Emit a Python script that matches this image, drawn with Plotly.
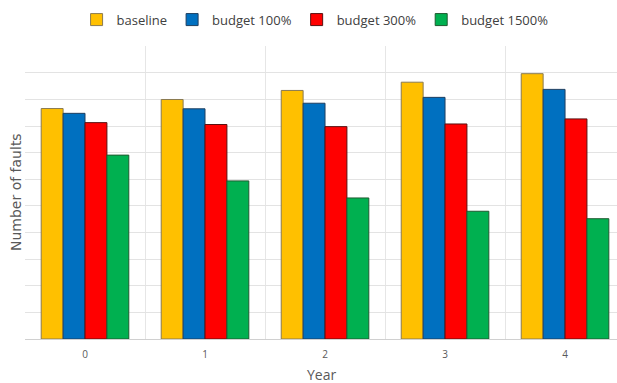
import plotly.graph_objects as go

years = [0, 1, 2, 3, 4]
year_labels = ["0", "1", "2", "3", "4"]
series_names = ["baseline", "budget 100%", "budget 300%", "budget 1500%"]
baseline = [8.66, 9.00, 9.34, 9.65, 9.97]
budget_100 = [8.48, 8.65, 8.86, 9.08, 9.38]
budget_300 = [8.13, 8.06, 7.98, 8.08, 8.27]
budget_1500 = [6.91, 5.94, 5.30, 4.80, 4.52]
colors = ["#FFC000", "#0070C0", "#FF0000", "#00B050"]
edge_colors = ["#8a7a50", "#1f3f60", "#5a1010", "#1f5a30"]

fig = go.Figure()
for name, vals, c, ec in zip(series_names, [baseline, budget_100, budget_300, budget_1500], colors, edge_colors):
    fig.add_trace(go.Bar(x=years, y=vals, name=name,
                         marker=dict(color=c, line=dict(color=ec, width=1))))

fig.update_layout(
    width=617, height=383,
    margin=dict(l=25, r=0, t=46, b=44),
    barmode="group", bargap=0.27, bargroupgap=0,
    plot_bgcolor="white", paper_bgcolor="white",
    font=dict(family="Open Sans", color="#595959"),
    legend=dict(orientation="h", x=0.49, xanchor="center", y=1.09, yanchor="middle",
                font=dict(size=13, family="Open Sans", color="#404040"),
                itemwidth=30, traceorder="normal"),
    showlegend=True,
    xaxis=dict(range=[-0.5, 4.433], tickvals=years, ticktext=year_labels,
               showgrid=False, zeroline=False, ticks="", ticklabelstandoff=6,
               tickfont=dict(size=10, color="#595959"),
               showline=True, linecolor="#d0d0d0", linewidth=1,
               minor=dict(tickmode="linear", tick0=0.5, dtick=1, showgrid=True,
                          gridcolor="#e6e6e6", gridwidth=1, ticks="")),
    yaxis=dict(range=[0, 11.01], dtick=1, showticklabels=False, showgrid=True,
               gridcolor="#e3e3e3", gridwidth=1, zeroline=False, ticks=""),
    annotations=[
        dict(text="Year", xref="paper", yref="paper", x=0.5, y=-0.12,
             xanchor="center", yanchor="middle", showarrow=False,
             font=dict(size=14, color="#595959")),
        dict(text="Number of faults", xref="paper", yref="paper", x=-0.016, y=0.5,
             xanchor="center", yanchor="middle", textangle=-90, showarrow=False,
             font=dict(size=14, family="DejaVu Sans", color="#595959")),
    ],
)

fig.write_html("out.html")
